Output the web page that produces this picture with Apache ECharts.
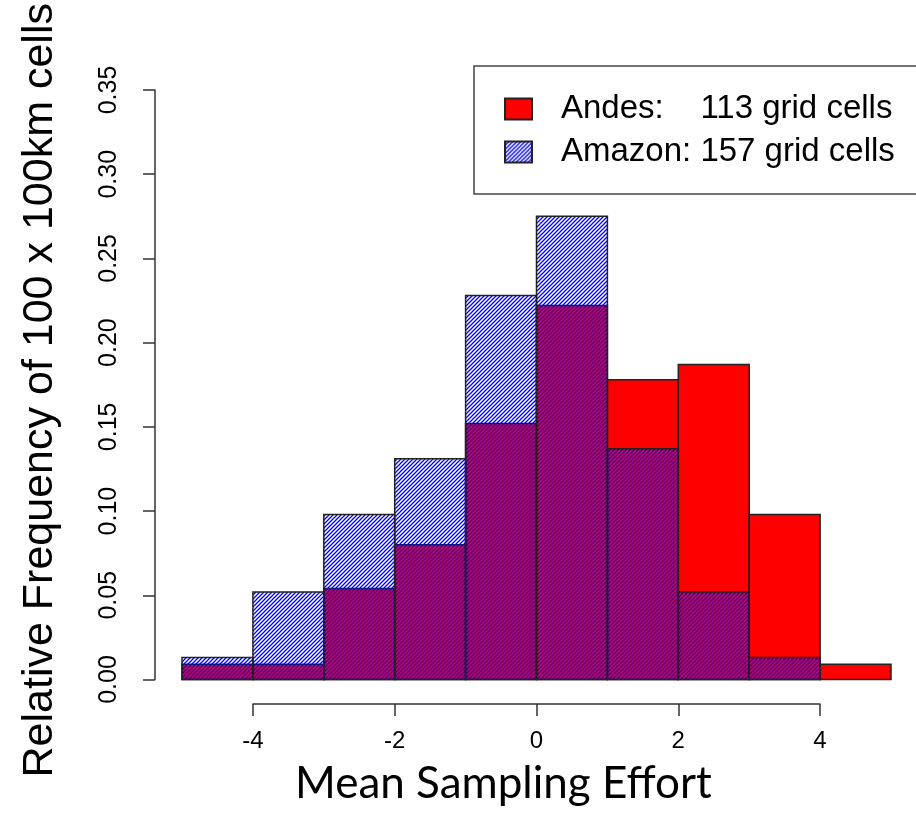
<!DOCTYPE html>
<html>
<head>
<meta charset="utf-8">
<script src="https://cdn.jsdelivr.net/npm/echarts@6/dist/echarts.min.js"></script>
<style>
  html, body { margin: 0; padding: 0; background: #fff; }
  #echarts { width: 916px; height: 819px; }
</style>
</head>
<body>
<div id="echarts"></div>
<script>
// histogram bins (left edge, right edge) and relative frequencies
var binStarts = [-5, -4, -3, -2, -1, 0, 1, 2, 3, 4];
var binEnds   = [-4, -3, -2, -1, 0, 1, 2, 3, 4, 5];
var andesFreq  = [0.009, 0.009, 0.054, 0.080, 0.152, 0.222, 0.178, 0.187, 0.098, 0.009];
var amazonFreq = [0.013, 0.052, 0.098, 0.131, 0.228, 0.275, 0.137, 0.052, 0.013, 0];
var seriesNames = ['Andes', 'Amazon'];
var legendTexts = ['Andes:    113 grid cells', 'Amazon: 157 grid cells'];
var yTicks = [0, 0.05, 0.10, 0.15, 0.20, 0.25, 0.30, 0.35];
var xTicks = [-4, -2, 0, 2, 4];

window.onload = function () {
    // blue diagonal hatching, like R's density= shading
    function makeHatch() {
        var c = document.createElement('canvas');
        c.width = 4;
        c.height = 4;
        var ctx = c.getContext('2d');
        ctx.strokeStyle = '#0000ff';
        ctx.lineWidth = 1.25;
        for (var k = -1; k <= 2; k++) {
            ctx.beginPath();
            ctx.moveTo(4 * k + 4, -4);
            ctx.lineTo(4 * k - 8, 8);
            ctx.stroke();
        }
        return c;
    }

    function binData(freq) {
        return binStarts.map(function (s, i) {
            return [s, binEnds[i], freq[i]];
        });
    }

    function renderBin(params, api) {
        var y = api.value(2);
        if (!y) return;
        var p0 = api.coord([api.value(0), 0]);
        var p1 = api.coord([api.value(1), y]);
        return {
            type: 'rect',
            shape: { x: p0[0], y: p1[1], width: p1[0] - p0[0], height: p0[1] - p1[1] },
            style: api.style()
        };
    }

    var hatch = { image: makeHatch(), repeat: 'repeat' };

    var option = {
        animation: false,
        backgroundColor: '#fff',
        title: {
            text: 'Mean Sampling Effort',
            left: 295,
            top: 762,
            padding: 0,
            textStyle: { fontFamily: 'Lato', fontSize: 44, fontWeight: 'normal', color: '#000' }
        },
        legend: {
            orient: 'vertical',
            left: 474,
            top: 66,
            padding: [26.5, 40, 25.5, 30],
            itemWidth: 27,
            itemHeight: 21,
            itemGap: 10,
            icon: 'rect',
            selectedMode: false,
            borderColor: '#444',
            borderWidth: 1.5,
            data: seriesNames,
            formatter: function (name) {
                return '{n|' + legendTexts[seriesNames.indexOf(name)] + '}';
            },
            textStyle: {
                fontFamily: 'Liberation Sans',
                fontSize: 33,
                lineHeight: 30,
                color: '#000',
                rich: {
                    n: { fontFamily: 'Liberation Sans', fontSize: 33, lineHeight: 30, color: '#000', padding: [0, 0, 0, 24] }
                }
            }
        },
        grid: [
            { left: 182, right: 25, top: 90, bottom: 139.5, outerBoundsMode: 'none' },
            { left: 253, right: 96, top: 90, bottom: 115, outerBoundsMode: 'none' }
        ],
        xAxis: [
            { type: 'value', gridIndex: 0, min: -5, max: 5, show: false },
            {
                type: 'value', gridIndex: 1, min: xTicks[0], max: xTicks[xTicks.length - 1], interval: 2,
                axisLine: { show: true, onZero: false, lineStyle: { color: '#333', width: 1.5 } },
                axisTick: { show: true, length: 12, lineStyle: { color: '#333', width: 1.5 } },
                axisLabel: { fontFamily: 'Liberation Sans', fontSize: 24, color: '#000', margin: 25 },
                splitLine: { show: false }
            }
        ],
        yAxis: [
            {
                type: 'value', gridIndex: 0, min: yTicks[0], max: yTicks[yTicks.length - 1], interval: 0.05,
                offset: 27,
                name: 'Relative Frequency of 100 x 100km cells',
                nameLocation: 'middle',
                nameRotate: 90,
                nameGap: 93,
                nameTextStyle: { fontFamily: 'Liberation Sans', fontSize: 43, color: '#000', padding: [0, 11, 0, 0] },
                axisLine: { show: true, onZero: false, lineStyle: { color: '#333', width: 1.5 } },
                axisTick: { show: true, length: 12, lineStyle: { color: '#333', width: 1.5 } },
                axisLabel: {
                    rotate: 90, margin: 33, fontFamily: 'Liberation Sans', fontSize: 25, color: '#000',
                    formatter: function (v) { return v.toFixed(2); }
                },
                splitLine: { show: false }
            },
            { type: 'value', gridIndex: 1, show: false }
        ],
        series: [
            {
                name: seriesNames[0],
                type: 'custom',
                xAxisIndex: 0,
                yAxisIndex: 0,
                renderItem: renderBin,
                itemStyle: { color: '#ff0000', borderColor: '#222', borderWidth: 1.5 },
                encode: { x: [0, 1], y: 2 },
                data: binData(andesFreq)
            },
            {
                name: seriesNames[1],
                type: 'custom',
                xAxisIndex: 0,
                yAxisIndex: 0,
                renderItem: renderBin,
                itemStyle: { color: hatch, borderColor: '#222', borderWidth: 1.5 },
                encode: { x: [0, 1], y: 2 },
                data: binData(amazonFreq)
            }
        ]
    };

    var mychart = echarts.init(document.getElementById('echarts'));
    mychart.setOption(option);
};
</script>
</body>
</html>
